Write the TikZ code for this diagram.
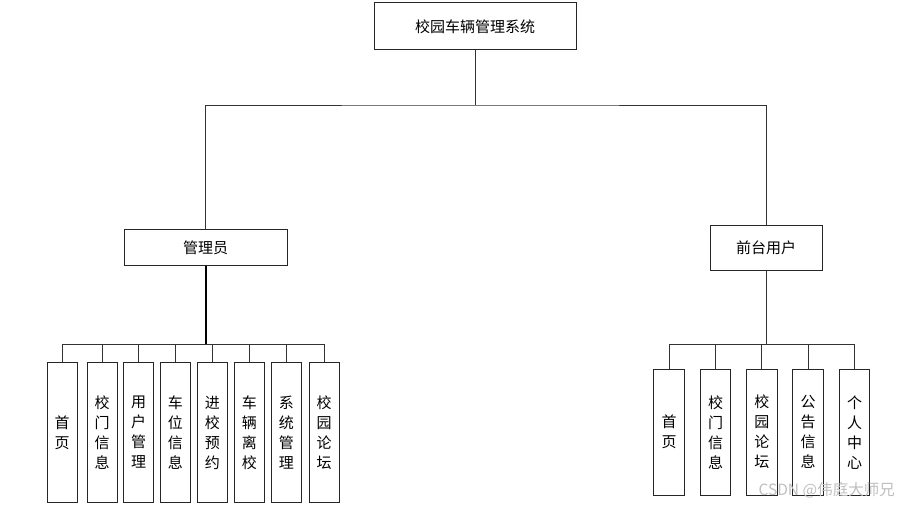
\documentclass[tikz,border=0pt]{standalone}
\usepackage{fontspec}
\newfontfamily\cjk{Noto Sans CJK SC}
\begin{document}
\begin{tikzpicture}[x=1pt,y=-1pt,
  box/.style={draw=black!85, line width=1pt, fill=white, inner sep=0pt,
    font=\cjk\fontsize{15}{20}\selectfont, align=center},
  vbox/.style={box, minimum width=30, minimum height=140},
  rvbox/.style={box, minimum width=30.5, minimum height=126},
  link/.style={draw=black!80, line width=0.9pt},
  heavy/.style={draw=black, line width=2pt}]
\useasboundingbox (0,0) rectangle (897,505);

% top level
\node[box, minimum width=202, minimum height=47] (root) at (475,26.5) {校园车辆管理系统};
\node[box, minimum width=163, minimum height=35] (admin) at (205.5,247.5) {管理员};
\node[box, minimum width=112, minimum height=44] (front) at (766,248) {前台用户};

\coordinate (top) at (475,105);
\draw[link] (root.south) -- (top);
\draw[link] (admin.north) |- (top) -| (front.north);

% administrator modules
\node[vbox] (a1) at (62,432.5) {首\\页};
\node[vbox] (a2) at (102,432.5) {校\\门\\信\\息};
\node[vbox] (a3) at (138.7,432.5) {用\\户\\管\\理};
\node[vbox] (a4) at (175.3,432.5) {车\\位\\信\\息};
\node[vbox] (a5) at (212.3,432.5) {进\\校\\预\\约};
\node[vbox] (a6) at (249.3,432.5) {车\\辆\\离\\校};
\node[vbox] (a7) at (286.3,432.5) {系\\统\\管\\理};
\node[vbox] (a8) at (324.2,432.5) {校\\园\\论\\坛};

\coordinate (lbus) at (205.5,344);
\draw[heavy] (admin.south) -- (lbus);
\foreach \n in {a1,a2,a3,a4,a5,a6,a7,a8}
  \draw[link] (\n.north) |- (lbus);

% front-end user modules
\node[rvbox] (f1) at (669,432.2) {首\\页};
\node[rvbox] (f2) at (715.5,432.2) {校\\门\\信\\息};
\node[rvbox] (f3) at (761.8,432.2) {校\\园\\论\\坛};
\node[rvbox] (f4) at (808.2,432.2) {公\\告\\信\\息};
\node[rvbox] (f5) at (854.6,432.2) {个\\人\\中\\心};

\coordinate (rbus) at (766,344);
\draw[link] (front.south) -- (rbus);
\foreach \n in {f1,f2,f3,f4,f5}
  \draw[link] (\n.north) |- (rbus);

% watermark
\node[font=\cjk\fontsize{15.5}{15.5}\selectfont, text=black!25, anchor=east, inner sep=0pt]
  (wm) at (895,490) {CSDN @伟庭大师兄};
\end{tikzpicture}
\end{document}
